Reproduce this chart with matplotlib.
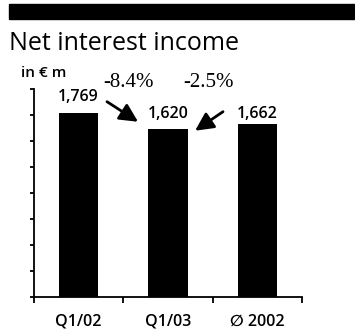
import numpy as np
import matplotlib.pyplot as plt
from matplotlib.patches import Rectangle

# net interest income, in EUR m
categories = ['Q1/02', 'Q1/03', '\u2205 2002']
values = [1769, 1620, 1662]
value_labels = ['1,769', '1,620', '1,662']
changes = ['-8.4%', '-2.5%']

plt.rcParams['font.family'] = ['Open Sans', 'DejaVu Sans']

fig = plt.figure(figsize=(3.55, 3.32), dpi=100)

# black header band
fig.patches.append(Rectangle((9 / 355, 1 - 19 / 332), 1, 15 / 332,
                             transform=fig.transFigure, color='black', zorder=0))
fig.text(9 / 355, 1 - 50 / 332, 'Net interest income', fontsize=18,
         va='baseline', fontweight='medium')
fig.text(21 / 355, 1 - 77 / 332, 'in \u20ac m', fontsize=11,
         va='baseline', fontweight='semibold')

ax = fig.add_axes([34 / 355, 35 / 332, 268 / 355, 208 / 332])
x = np.arange(len(values))
ax.bar(x, values, width=0.44, color='black')

ax.set_xlim(-0.5, 2.5)
ax.set_ylim(0, 2000)
ax.spines['top'].set_visible(False)
ax.spines['right'].set_visible(False)
ax.spines['left'].set_linewidth(1.3)
ax.spines['bottom'].set_linewidth(1.3)

ax.set_xticks(x)
ax.set_xticklabels(categories, fontsize=11.5, fontweight='semibold')
ax.set_xticks([-0.5, 0.5, 1.5, 2.5], minor=True)
ax.tick_params(axis='x', which='major', length=0, pad=12)
ax.tick_params(axis='x', which='minor', length=4, width=1.3, direction='out')
ax.set_yticks(np.arange(0, 2001, 250))
ax.set_yticklabels([])
ax.tick_params(axis='y', length=3, width=1.3, direction='out')

# value labels above bars
offsets = [157, 142, 100]
for i, (v, lab) in enumerate(zip(values, value_labels)):
    ax.text(i, v + offsets[i], lab, ha='center', va='center',
            fontsize=11.5, fontweight='semibold')

# change arrows and percentages
arrow = dict(arrowstyle='-|>,head_length=1.1,head_width=0.55', color='black',
             lw=2, shrinkA=0, shrinkB=0)
ax.annotate('', xy=(0.665, 1685), xytext=(0.317, 1878),
            arrowprops=arrow, annotation_clip=False)
ax.annotate('', xy=(1.303, 1599), xytext=(1.616, 1782),
            arrowprops=arrow, annotation_clip=False)
ax.text(0.553, 2061, changes[0], ha='center', va='center', fontsize=15,
        family='Liberation Serif')
ax.text(1.448, 2061, changes[1], ha='center', va='center', fontsize=15,
        family='Liberation Serif')

fig.savefig('out.png', dpi=100)
